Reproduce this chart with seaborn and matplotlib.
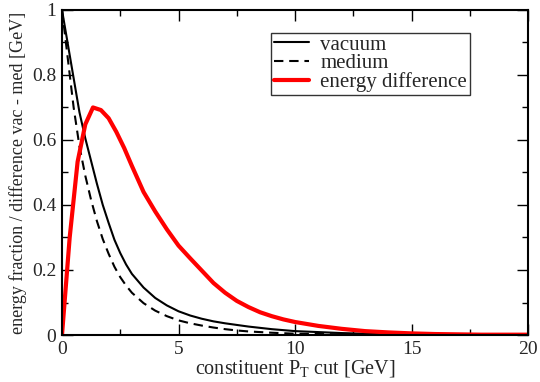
import numpy as np
import pandas as pd
import matplotlib
matplotlib.use("Agg")
import matplotlib.pyplot as plt
from matplotlib.ticker import MultipleLocator, FuncFormatter
import seaborn as sns

# ---- data ----
vac_x = [0, 0.25, 0.5, 0.75, 1.0, 1.25, 1.5, 1.75, 2.0, 2.25, 2.5, 2.75, 3.0, 3.5, 4.0, 4.5,
         5.0, 5.5, 6.0, 6.5, 7.0, 7.5, 8.0, 9.0, 10.0, 11.0, 12.0, 13.0, 14.0, 15.0, 17.0, 20.0]
vac_y = [1.0, 0.895, 0.79, 0.685, 0.605, 0.535, 0.465, 0.40, 0.345, 0.293, 0.252, 0.217, 0.188,
         0.146, 0.114, 0.091, 0.073, 0.060, 0.050, 0.042, 0.036, 0.031, 0.026, 0.018, 0.012,
         0.009, 0.006, 0.004, 0.003, 0.002, 0.001, 0.0]

med_x = [0, 0.25, 0.5, 0.75, 1.0, 1.25, 1.5, 1.75, 2.0, 2.25, 2.5, 2.75, 3.0, 3.5, 4.0, 4.5,
         5.0, 5.5, 6.0, 6.5, 7.0, 7.5, 8.0, 9.0, 10.0, 12.0, 15.0, 20.0]
med_y = [1.0, 0.85, 0.70, 0.58, 0.49, 0.415, 0.35, 0.295, 0.25, 0.21, 0.178, 0.152, 0.13,
         0.098, 0.075, 0.058, 0.045, 0.036, 0.029, 0.023, 0.018, 0.014, 0.011, 0.007, 0.004,
         0.002, 0.001, 0.0]

diff_x = [0, 0.33, 0.67, 1.0, 1.33, 1.67, 2.0, 2.33, 2.67, 3.0, 3.5, 4.0, 4.5, 5.0, 5.5, 6.0,
          6.5, 7.0, 7.5, 8.0, 8.5, 9.0, 9.5, 10.0, 11.0, 12.0, 13.0, 14.0, 15.0, 16.0, 17.0, 18.0, 20.0]
diff_y = [0.0, 0.30, 0.533, 0.648, 0.70, 0.692, 0.667, 0.625, 0.575, 0.52, 0.44, 0.38, 0.325,
          0.275, 0.236, 0.198, 0.16, 0.13, 0.105, 0.086, 0.07, 0.058, 0.048, 0.040, 0.028, 0.019,
          0.012, 0.008, 0.005, 0.003, 0.002, 0.001, 0.001]

labels = ["vacuum", "medium", "energy difference"]
x_ticks = [0, 5, 10, 15, 20]
y_ticks = [0, 0.2, 0.4, 0.6, 0.8, 1.0]

sns.set_style("ticks")
plt.rcParams["font.family"] = ["Liberation Serif", "DejaVu Serif"]
plt.rcParams["mathtext.fontset"] = "custom"
plt.rcParams["mathtext.rm"] = "Liberation Serif"

fig = plt.figure(figsize=(5.4, 3.82), dpi=100)
ax = fig.add_axes([0.1148, 0.123, 0.978 - 0.1148, 0.974 - 0.123])

df_vac = pd.DataFrame({"x": vac_x, "y": vac_y})
df_med = pd.DataFrame({"x": med_x, "y": med_y})
df_diff = pd.DataFrame({"x": diff_x, "y": diff_y})

sns.lineplot(data=df_vac, x="x", y="y", ax=ax, color="black", lw=1.5, label=labels[0])
sns.lineplot(data=df_med, x="x", y="y", ax=ax, color="black", lw=1.5, linestyle=(0, (4.5, 2.8)), label=labels[1])
sns.lineplot(data=df_diff, x="x", y="y", ax=ax, color="#ff0000", lw=3.0, label=labels[2])

ax.set_xlim(0, 20)
ax.set_ylim(0, 1)
ax.set_xticks(x_ticks)
ax.set_yticks(y_ticks)
ax.xaxis.set_minor_locator(MultipleLocator(2.5))
ax.yaxis.set_minor_locator(MultipleLocator(0.1))
fmt = FuncFormatter(lambda v, p: "%g" % v)
ax.xaxis.set_major_formatter(fmt)
ax.yaxis.set_major_formatter(fmt)
ax.tick_params(which="both", direction="in", top=True, right=True, labelsize=14, width=1.0, color="black")
ax.tick_params(which="major", length=8, pad=4)
ax.tick_params(which="minor", length=4)
for s in ax.spines.values():
    s.set_linewidth(1.5)
    s.set_color("black")

ax.set_xlabel(r"constituent P$_\mathrm{T}$ cut [GeV]", fontsize=14.5, labelpad=0)
ax.set_ylabel("energy fraction / difference vac - med [GeV]", fontsize=13, labelpad=4)

leg = ax.legend(loc="upper left", bbox_to_anchor=(0.4485, 0.93), fontsize=15, frameon=True,
                fancybox=False, edgecolor="#333333", handlelength=1.7, handletextpad=0.55,
                borderpad=0.12, labelspacing=-0.05, borderaxespad=0, framealpha=1)
leg.get_frame().set_linewidth(1.0)

fig.savefig("out.png", dpi=100)
